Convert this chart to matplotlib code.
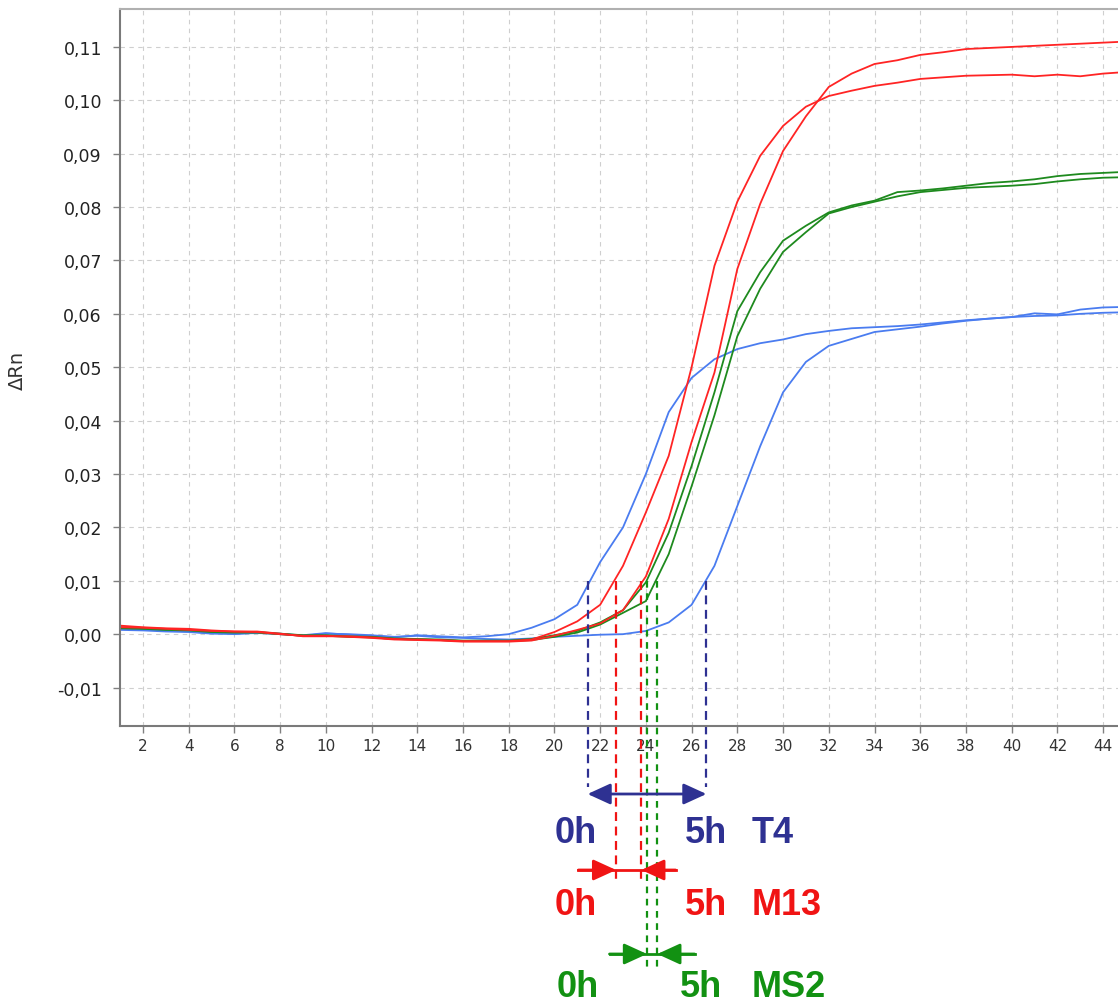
import matplotlib
matplotlib.use("Agg")
import matplotlib.pyplot as plt
from matplotlib.ticker import FuncFormatter

plt.rcParams["axes.unicode_minus"] = False

# %% data: delta Rn per cycle
cycles = list(range(1, 46))

t4_0h = [0.0010, 0.0009, 0.0007, 0.0005, 0.0002, 0.0000, 0.0003, 0.0000, -0.0002, 0.0002,
         -0.0001, -0.0003, -0.0006, -0.0002, -0.0004, -0.0006, -0.0004, 0.0000, 0.0012, 0.0028,
         0.0055, 0.0135, 0.0200, 0.0300, 0.0416, 0.0480, 0.0515, 0.0534, 0.0545, 0.0552,
         0.0562, 0.0568, 0.0573, 0.0575, 0.0577, 0.0580, 0.0584, 0.0588, 0.0591, 0.0594,
         0.0601, 0.0599, 0.0608, 0.0612, 0.0613]
t4_5h = [0.0008, 0.0007, 0.0005, 0.0004, 0.0001, 0.0001, 0.0002, 0.0001, -0.0003, 0.0001,
         0.0000, -0.0002, -0.0005, -0.0003, -0.0006, -0.0007, -0.0009, -0.0010, -0.0008, -0.0005,
         -0.0003, -0.0001, 0.0000, 0.0006, 0.0022, 0.0055, 0.0128, 0.0240, 0.0352, 0.0453,
         0.0510, 0.0540, 0.0553, 0.0566, 0.0571, 0.0576, 0.0582, 0.0587, 0.0591, 0.0594,
         0.0596, 0.0597, 0.0600, 0.0602, 0.0603]
m13_0h = [0.0016, 0.0013, 0.0011, 0.0010, 0.0007, 0.0005, 0.0005, 0.0001, -0.0004, -0.0004,
          -0.0004, -0.0006, -0.0009, -0.0010, -0.0011, -0.0013, -0.0013, -0.0013, -0.0010, 0.0004,
          0.0024, 0.0055, 0.0128, 0.0228, 0.0334, 0.0500, 0.0690, 0.0810, 0.0896, 0.0952,
          0.0988, 0.1008, 0.1018, 0.1027, 0.1033, 0.1040, 0.1043, 0.1046, 0.1047, 0.1048,
          0.1045, 0.1048, 0.1045, 0.1050, 0.1053]
m13_5h = [0.0013, 0.0012, 0.0010, 0.0008, 0.0006, 0.0005, 0.0004, 0.0000, -0.0003, -0.0003,
          -0.0005, -0.0007, -0.0010, -0.0011, -0.0012, -0.0014, -0.0014, -0.0014, -0.0012, -0.0003,
          0.0008, 0.0020, 0.0045, 0.0108, 0.0216, 0.0360, 0.0490, 0.0684, 0.0806, 0.0905,
          0.0970, 0.1025, 0.1050, 0.1068, 0.1075, 0.1085, 0.1090, 0.1096, 0.1098, 0.1100,
          0.1102, 0.1104, 0.1106, 0.1108, 0.1110]
ms2_0h = [0.0013, 0.0011, 0.0009, 0.0008, 0.0005, 0.0004, 0.0004, 0.0001, -0.0002, -0.0002,
          -0.0004, -0.0005, -0.0008, -0.0009, -0.0010, -0.0012, -0.0012, -0.0012, -0.0009, -0.0002,
          0.0006, 0.0022, 0.0045, 0.0097, 0.0190, 0.0315, 0.0453, 0.0605, 0.0678, 0.0737,
          0.0765, 0.0790, 0.0803, 0.0812, 0.0828, 0.0831, 0.0835, 0.0840, 0.0845, 0.0848,
          0.0852, 0.0858, 0.0862, 0.0864, 0.0866]
ms2_5h = [0.0011, 0.0010, 0.0008, 0.0007, 0.0004, 0.0003, 0.0003, 0.0000, -0.0003, -0.0003,
          -0.0005, -0.0006, -0.0009, -0.0010, -0.0011, -0.0013, -0.0013, -0.0013, -0.0011, -0.0005,
          0.0003, 0.0018, 0.0040, 0.0062, 0.0150, 0.0277, 0.0410, 0.0558, 0.0647, 0.0716,
          0.0753, 0.0788, 0.0800, 0.0810, 0.0820, 0.0828, 0.0832, 0.0836, 0.0838, 0.0840,
          0.0843, 0.0848, 0.0852, 0.0855, 0.0856]

threshold = 0.01
ct_t4 = [21.45, 26.65]
ct_m13 = [22.7, 23.8]
ct_ms2 = [24.05, 24.5]

line_blue = "#4a7cf0"
line_red = "#ff2424"
line_green = "#1e8a1e"
navy = "#2e3192"
red = "#f01414"
green = "#129112"

# %% figure
W, H = 1118, 1003
fig = plt.figure(figsize=(W / 100, H / 100), dpi=100)
ax = fig.add_axes([120 / W, 1 - 727 / H, 1006 / W, 717 / H])

for ys in (t4_0h, t4_5h):
    ax.plot(cycles, ys, color=line_blue, lw=1.3)
for ys in (ms2_0h, ms2_5h):
    ax.plot(cycles, ys, color=line_green, lw=1.3)
for ys in (m13_0h, m13_5h):
    ax.plot(cycles, ys, color=line_red, lw=1.3)

ax.set_xlim(1, 45)
ax.set_ylim(-0.0172, 0.1171)
ax.set_xticks(range(2, 45, 2))
ax.set_yticks([i / 100 for i in range(-1, 12)])
ax.yaxis.set_major_formatter(FuncFormatter(lambda v, p: f"{v:.2f}".replace(".", ",")))

ax.tick_params(axis="y", length=5, width=1, color="#808080", pad=8, labelsize=12.5, labelcolor="#222222")
ax.tick_params(axis="x", length=5, width=1, color="#808080", pad=4, labelsize=11, labelcolor="#333333")

for side in ("left", "bottom"):
    ax.spines[side].set_color("#7a7a7a")
    ax.spines[side].set_linewidth(1.5)
ax.spines["top"].set_color("#b0b0b0")
ax.spines["top"].set_linewidth(1.5)
ax.spines["right"].set_visible(False)

ax.grid(True, color="#cfcfcf", linestyle=(0, (4, 4)), linewidth=0.8)
ax.set_axisbelow(True)

fig.text(17 / W, 1 - 370 / H, "ΔRn", rotation=90, ha="center", va="center", fontsize=14, color="#333333")


# %% Ct annotations below the plot
def py_to_data(py):
    disp = fig.transFigure.transform((0, 1 - py / H))
    return ax.transData.inverted().transform(disp)[1]


def head(x_tail, x_tip, y, color, style="-|>"):
    ax.annotate("", xy=(x_tip, y), xytext=(x_tail, y), annotation_clip=False,
                arrowprops=dict(arrowstyle=style + ",head_length=0.7,head_width=0.32",
                                color=color, lw=2, shrinkA=0, shrinkB=0, mutation_scale=20))


def label(px, base, s, color):
    fig.text(px / W, 1 - base / H, s, ha="left", va="baseline", fontsize=26,
             fontweight="bold", family="Liberation Sans", color=color)


# T4: outward double arrow
y_end = py_to_data(788)
for ct in ct_t4:
    ax.plot([ct, ct], [threshold, y_end], color=navy, lw=1.6, ls=(0, (4, 2.5)), clip_on=False)
head(ct_t4[0], ct_t4[1], py_to_data(795), navy, style="<|-|>")
label(555, 843, "0h", navy)
label(685, 843, "5h", navy)
label(752, 843, "T4", navy)

# M13: inward arrows
y_end = py_to_data(885)
y_arr = py_to_data(871)
for ct in ct_m13:
    ax.plot([ct, ct], [threshold, y_end], color=red, lw=1.6, ls=(0, (4, 2.5)), clip_on=False)
ax.plot([ct_m13[0] - 1.65, ct_m13[1] + 1.5], [y_arr, y_arr], color=red, lw=2, clip_on=False)
head(ct_m13[0] - 1.65, ct_m13[0], y_arr, red)
head(ct_m13[1] + 1.5, ct_m13[1], y_arr, red)
label(555, 915, "0h", red)
label(685, 915, "5h", red)
label(752, 915, "M13", red)

# MS2: inward arrows
y_end = py_to_data(973)
y_arr = py_to_data(955)
for ct in ct_ms2:
    ax.plot([ct, ct], [threshold, y_end], color=green, lw=1.6, ls=(0, (3, 2.5)), clip_on=False)
ax.plot([ct_ms2[0] - 1.64, ct_ms2[1] + 1.63], [y_arr, y_arr], color=green, lw=2, clip_on=False)
head(ct_ms2[0] - 1.64, ct_ms2[0], y_arr, green)
head(ct_ms2[1] + 1.63, ct_ms2[1], y_arr, green)
label(557, 997, "0h", green)
label(680, 997, "5h", green)
label(752, 997, "MS2", green)

fig.savefig("out.png", dpi=100)
